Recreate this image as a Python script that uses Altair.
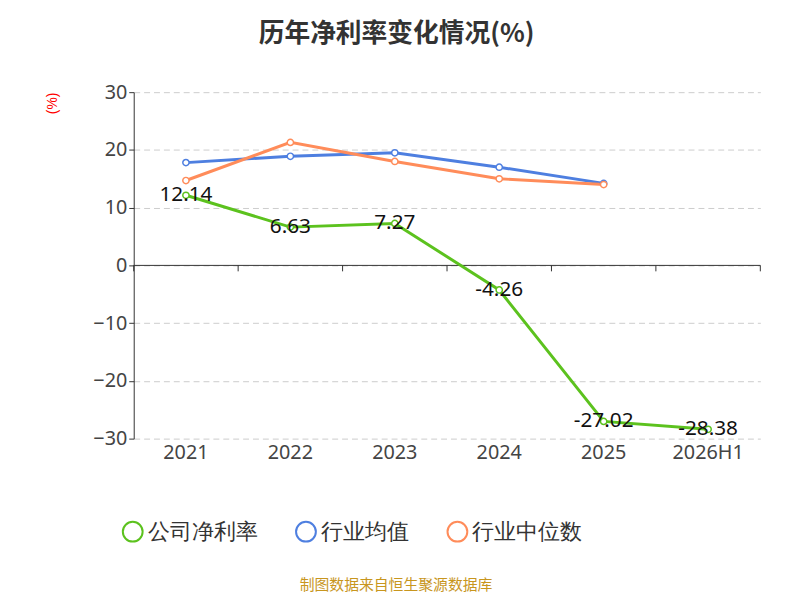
import altair as alt
import pandas as pd

years = ["2021", "2022", "2023", "2024", "2025", "2026H1"]
company = [12.14, 6.63, 7.27, -4.26, -27.02, -28.38]
industry_avg = [17.8, 18.9, 19.5, 17.0, 14.2]
industry_median = [14.7, 21.3, 18.0, 15.0, 14.0]
series = ["公司净利率", "行业均值", "行业中位数"]
colors = ["#5cc21e", "#4e7fe0", "#ff8c5a"]

rows = []
for name, vals in zip(series, [company, industry_avg, industry_median]):
    for y, v in zip(years, vals):
        rows.append({"year": y, "value": v, "series": name})
df = pd.DataFrame(rows)
comp = df[df.series == "公司净利率"].copy()
comp["label"] = comp["value"].map(lambda v: f"{v:.2f}")

xenc = alt.X("year:N", sort=years, bandPosition=0.5,
             scale=alt.Scale(type="band", paddingInner=0, paddingOuter=0),
             axis=alt.Axis(title=None, domain=False, ticks=False, labelAngle=0, bandPosition=0.5,
                           labelAlign="center",
                           labelFontSize=20, labelColor="#444", labelPadding=14,
                           labelFont="Noto Sans"))
yenc = alt.Y("value:Q", scale=alt.Scale(domain=[-30, 30], nice=False),
             axis=alt.Axis(title="(%)", titleColor="red", titleFontSize=14,
                           titleFontWeight="normal", titleAnchor="end", titlePadding=34,
                           values=list(range(-30, 31, 10)), labelFontSize=20,
                           labelColor="#444", domainColor="#333", tickColor="#333",
                           gridDash=[6, 4], gridColor="#ccc", labelFont="Noto Sans"))
color = alt.Color("series:N", sort=series, scale=alt.Scale(domain=series, range=colors),
                  legend=alt.Legend(title=None, orient="none", legendX=-12, legendY=433,
                                    direction="horizontal", labelFontSize=22,
                                    labelColor="#333", symbolType="circle",
                                    symbolSize=400, symbolStrokeWidth=2,
                                    symbolFillColor="white", columnPadding=36,
                                    labelFont="Noto Sans"))

base = alt.Chart(df)
lines = base.mark_line(strokeWidth=3).encode(x=xenc, y=yenc, color=color)
points = base.mark_point(filled=True, fill="white", size=40, strokeWidth=1.5, opacity=1).encode(
    x=xenc, y=yenc, stroke=alt.Stroke("series:N", scale=alt.Scale(domain=series, range=colors), legend=None))
labels = alt.Chart(comp).mark_text(fontSize=21, color="#111", font="Noto Sans").encode(
    x=alt.X("year:N", sort=years, bandPosition=0.5), y="value:Q", text="label:N")
zero = alt.Chart(pd.DataFrame({"z": [0]})).mark_rule(color="#333").encode(y="z:Q")
tick_df = pd.DataFrame({"year": years})
ticks = alt.Chart(tick_df).mark_rule(color="#333").encode(
    x=alt.X("year:N", sort=years, bandPosition=0), y=alt.datum(0), y2=alt.value(181))
tick_end = alt.Chart(pd.DataFrame({"year": ["2026H1"]})).mark_rule(color="#333").encode(
    x=alt.X("year:N", sort=years, bandPosition=1), y=alt.datum(0), y2=alt.value(181))
footer = alt.Chart(pd.DataFrame({"t": ["制图数据来自恒生聚源数据库"]})).mark_text(
    fontSize=15, color="#c8961e", font="Noto Sans CJK SC").encode(
    text="t:N", x=alt.value(265), y=alt.value(498))

chart = alt.layer(zero, ticks, tick_end, lines, points, labels, footer).properties(
    width=633, height=350,
    autosize="none",
    padding={"left": 127, "top": 82, "right": 32, "bottom": 160},
    title=alt.TitleParams("历年净利率变化情况(%)", fontSize=26, fontWeight="bold",
                          color="#333", font="Noto Sans CJK SC", anchor="middle",
                          frame="group", dx=-51, offset=36),
).configure_view(stroke=None)

chart.save("out.html", embed_options={"renderer": "svg", "actions": False})
